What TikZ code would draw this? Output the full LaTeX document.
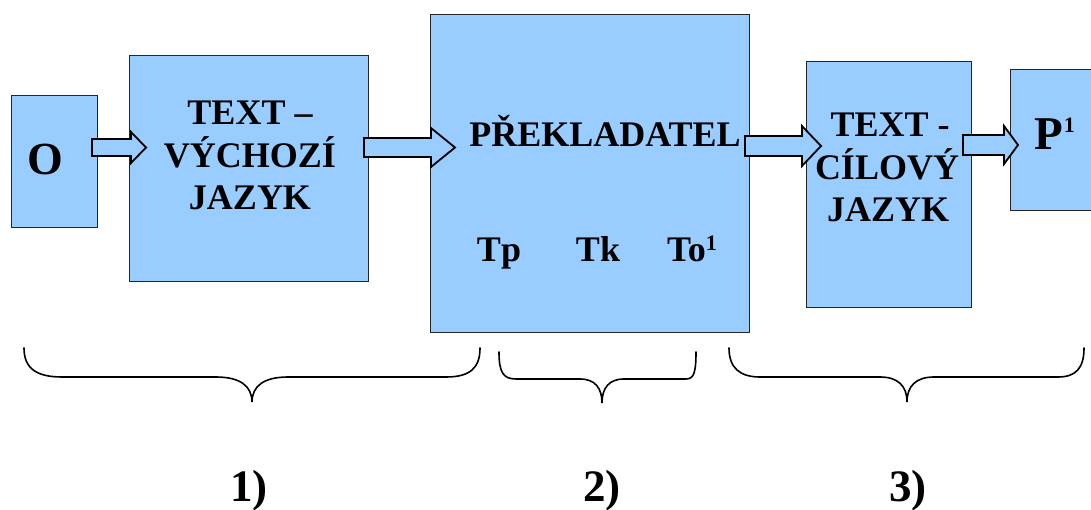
\documentclass[tikz,border=0pt]{standalone}
\usepackage{fontspec}
\setmainfont{Liberation Serif}
\definecolor{boxblue}{HTML}{99CCFF}
\newcommand\supmark[1]{{\fontsize{22}{22}\selectfont\bfseries\raisebox{#1}{1}}}
\begin{document}
\begin{tikzpicture}[x=1pt,y=-1pt,
  box/.style={draw=black!85, line width=1.3pt, fill=boxblue, inner sep=0pt, anchor=north west},
  lbl/.style={font=\fontsize{36}{42}\selectfont\bfseries, anchor=base, inner sep=0pt},
  barrow/.style={draw=black, line width=1.8pt, fill=boxblue, line join=miter},
  brace/.style={draw=black, line width=1.6pt, line cap=round},
  num/.style={font=\fontsize{45}{50}\selectfont\bfseries, anchor=base, inner sep=0pt}]
\clip (0,0) rectangle (1091,510);
\fill[white] (0,0) rectangle (1091,510);
% boxes
\node[box, minimum width=86, minimum height=132] (o) at (11,95) {};
\node[box, minimum width=239, minimum height=226] (src) at (129,55) {};
\node[box, minimum width=319, minimum height=318] (tr) at (430,14) {};
\node[box, minimum width=165, minimum height=246] (tgt) at (806,61) {};
\node[box, minimum width=95, minimum height=141] (p) at (1010,69) {};
% block arrows
\draw[barrow] (92,139) -- (131,139) -- (131,132) -- (146,147.5) -- (131,163) -- (131,156) -- (92,156) -- cycle;
\draw[barrow] (364,138) -- (431,138) -- (431,128) -- (455,147.5) -- (431,167) -- (431,157) -- (364,157) -- cycle;
\draw[barrow] (745,136) -- (802,136) -- (802,126) -- (821,146) -- (802,166) -- (802,156) -- (745,156) -- cycle;
\draw[barrow] (963,135) -- (1004,135) -- (1004,126) -- (1018,145) -- (1004,164) -- (1004,155) -- (963,155) -- cycle;
% texts
\node[lbl, font=\fontsize{46}{50}\selectfont\bfseries] (ot) at (45.5,175) {O};
\node[lbl] (s1) at (250,125) {TEXT –};
\node[lbl] (s2) at (250,168) {VÝCHOZÍ};
\node[lbl] (s3) at (250,210) {JAZYK};
\node[lbl] (trt) at (605,147) {PŘEKLADATEL};
\node[lbl] (tp) at (499,262) {Tp};
\node[lbl] (tk) at (598,262) {Tk};
\node[lbl] (to) at (692,262) {To\supmark{11pt}};
\node[lbl] (g1) at (890,137) {TEXT -};
\node[lbl] (g2) at (887,180) {CÍLOVÝ};
\node[lbl] (g3) at (888,222) {JAZYK};
\node[lbl, font=\fontsize{47}{50}\selectfont\bfseries, anchor=base west] (pt) at (1034,150) {P\kern1pt\supmark{17pt}};
% braces
\draw[brace] (24,348) .. controls (24,368) and (36,377) .. (62,377) -- (216,377) .. controls (240,377) and (252,386) .. (252,402) .. controls (252,386) and (264,377) .. (288,377) -- (446,377) .. controls (470,377) and (480,368) .. (480,348);
\draw[brace] (499,352) .. controls (499,372) and (503,379) .. (516,379) -- (580,379) .. controls (595,379) and (602,388) .. (602,403) .. controls (602,388) and (609,379) .. (624,379) -- (686,379) .. controls (694,379) and (696,372) .. (696,352);
\draw[brace] (729,348) .. controls (729,368) and (740,377) .. (760,377) -- (880,377) .. controls (898,377) and (907,386) .. (907,402) .. controls (907,386) and (916,377) .. (934,377) -- (1058,377) .. controls (1076,377) and (1084,368) .. (1084,348);
% labels
\node[num] (l1) at (249,501) {1)};
\node[num] (l2) at (602,501) {2)};
\node[num] (l3) at (908,501) {3)};
\end{tikzpicture}
\end{document}
